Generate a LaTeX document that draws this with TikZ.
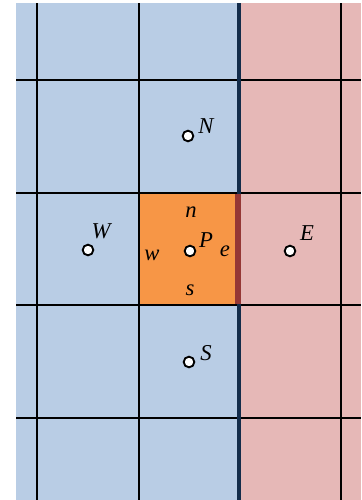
\documentclass[tikz,border=0pt]{standalone}
\usepackage{fontspec}
\setmainfont{Liberation Serif}
\definecolor{cellblue}{HTML}{B9CDE5}
\definecolor{cellpink}{HTML}{E6B8B7}
\definecolor{cellorange}{HTML}{F79646}
\definecolor{facered}{HTML}{953735}
\definecolor{bndnavy}{HTML}{132C4A}
\begin{document}
\begin{tikzpicture}[x=0.75pt,y=-0.75pt,
  gridline/.style={draw=black,line width=1.6pt},
  pt/.style={circle,draw=black,fill=white,line width=1.4pt,inner sep=0pt,minimum size=8pt},
  lbl/.style={font=\fontsize{17}{19}\selectfont\itshape,inner sep=0pt,anchor=center},
  facelbl/.style={font=\fontsize{17}{19}\selectfont\itshape,inner sep=0pt,anchor=center}]
\useasboundingbox (0,0) rectangle (361,500);
% fills
\fill[cellblue] (16,3) rectangle (239,500);
\fill[cellpink] (239,3) rectangle (361,500);
\fill[cellorange] (139,193) rectangle (239,305);
% grid lines
\foreach \x in {37,139,341} \draw[gridline] (\x,3) -- (\x,500);
\foreach \y in {80,193,305,418} \draw[gridline] (16,\y) -- (361,\y);
\draw[bndnavy,line width=3pt] (239,3) -- (239,500);
\draw[facered,line width=4.2pt] (238,194) -- (238,304);
% points
\node[pt] (W) at (88,250) {};
\node[pt] (P) at (190,251) {};
\node[pt] (E) at (290,251) {};
\node[pt] (N) at (188,136) {};
\node[pt] (S) at (189,362) {};
\node[lbl] (Wl) at (101,231) {W};
\node[lbl] (Pl) at (206,240) {P};
\node[lbl] (El) at (307,233) {E};
\node[lbl] (Nl) at (206,126) {N};
\node[lbl] (Sl) at (206,353) {S};
\node[facelbl] (nl) at (191,212) {n};
\node[facelbl] (sl) at (190,290) {s};
\node[facelbl] (wl) at (152,255) {w};
\node[facelbl] (el) at (225,251) {e};
\end{tikzpicture}
\end{document}
